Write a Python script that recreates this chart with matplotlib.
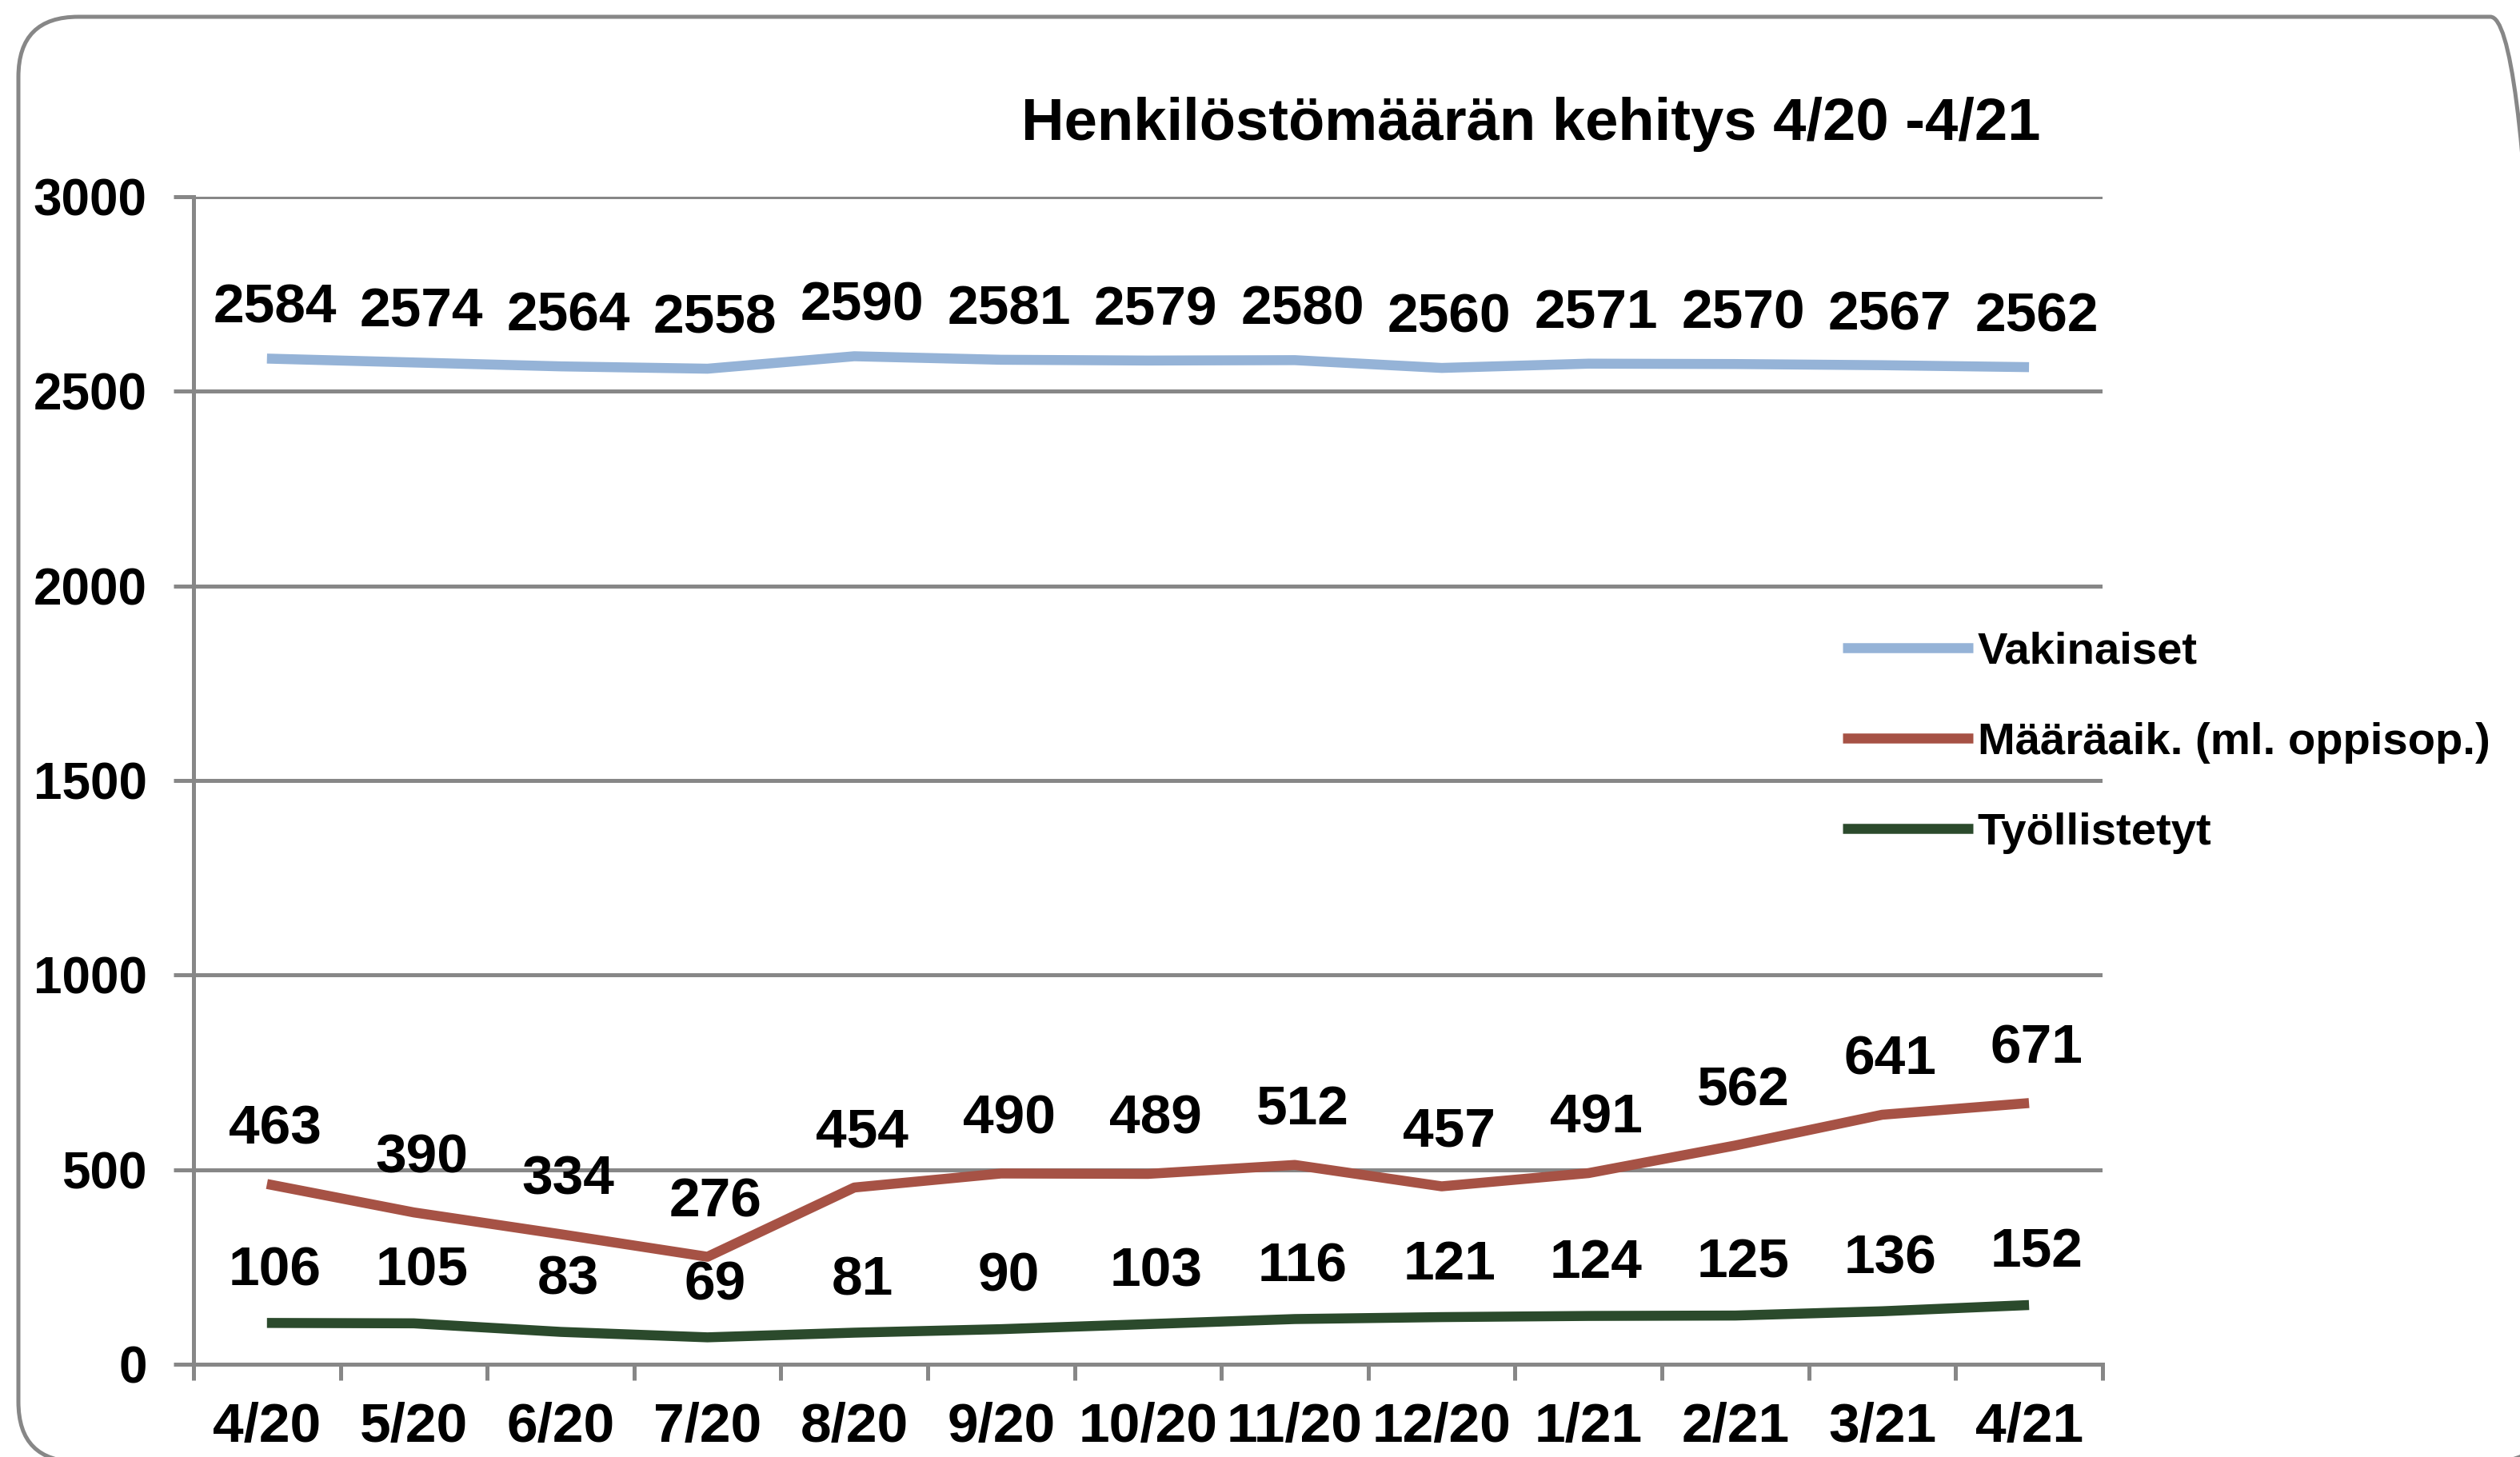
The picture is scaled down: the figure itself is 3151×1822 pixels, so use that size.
import matplotlib
matplotlib.use('Agg')
import matplotlib.pyplot as plt
from matplotlib.patches import FancyBboxPatch
from matplotlib.transforms import IdentityTransform

months = ['4/20', '5/20', '6/20', '7/20', '8/20', '9/20', '10/20', '11/20',
          '12/20', '1/21', '2/21', '3/21', '4/21']
vakinaiset = [2584, 2574, 2564, 2558, 2590, 2581, 2579, 2580, 2560, 2571, 2570, 2567, 2562]
maaraaik = [463, 390, 334, 276, 454, 490, 489, 512, 457, 491, 562, 641, 671]
tyollistetyt = [106, 105, 83, 69, 81, 90, 103, 116, 121, 124, 125, 136, 152]
names = ['Vakinaiset', 'Määräaik. (ml. oppisop.)', 'Työllistetyt']
title = 'Henkilöstömäärän kehitys 4/20 -4/21'

plt.rcParams['font.family'] = ['Liberation Sans', 'DejaVu Sans']
plt.rcParams['font.weight'] = 'bold'

grey = '#878787'
colors = ['#95B3D7', '#A65245', '#2B4A2C']
label_off = [45, 49, 47]  # label height above the point, pt

fig = plt.figure(figsize=(31.51, 18.22), dpi=100)
ax = fig.add_axes([0.0768, 0.0637, 0.8343 - 0.0768, 0.8650 - 0.0637])

# rounded frame around the chart (runs off the right and bottom edges)
frame = FancyBboxPatch((23, -6), 3166, 1807, boxstyle='round,pad=0,rounding_size=75',
                       transform=IdentityTransform(), fill=False, ec=grey, lw=3.6)
fig.add_artist(frame)

x = list(range(len(months)))
for vals, name, c, off in zip([vakinaiset, maaraaik, tyollistetyt], names, colors, label_off):
    ax.plot(x, vals, color=c, lw=9, label=name, solid_capstyle='butt', solid_joinstyle='round')
    for i, v in enumerate(vals):
        ax.annotate(str(v), (i, v), xytext=(7, off), textcoords='offset points',
                    ha='center', va='center', fontsize=50, fontweight='bold')

ax.set_xlim(-0.5, len(months) - 0.5)
ax.set_ylim(0, 3000)
ax.set_yticks(range(0, 3001, 500))
ax.yaxis.grid(True, color=grey, lw=3.6)
ax.set_axisbelow(True)
ax.set_xticks(x)
ax.set_xticklabels(months)
ax.set_xticks([i - 0.5 for i in range(len(months) + 1)], minor=True)
ax.tick_params(axis='x', which='major', length=0, pad=34, labelsize=50)
ax.tick_params(axis='x', which='minor', length=20 * 0.72, width=3.6, color=grey, direction='out')
ax.tick_params(axis='y', length=25 * 0.72, width=3.6, color=grey, pad=24, labelsize=46)
for s in ['top', 'right']:
    ax.spines[s].set_visible(False)
for s in ['left', 'bottom']:
    ax.spines[s].set_color(grey)
    ax.spines[s].set_linewidth(3.6)

fig.text(1914 / 3151, 1 - 155 / 1822, title, ha='center', va='center', fontsize=53.5, fontweight='bold')

ax.legend(loc='upper left', bbox_to_anchor=(2304 / 3151, 1 - 790 / 1822),
          bbox_transform=fig.transFigure, frameon=False, fontsize=40.5,
          handlelength=2.9, handletextpad=0.1, labelspacing=1.08,
          borderpad=0, borderaxespad=0)

fig.savefig('out.png', dpi=100)
